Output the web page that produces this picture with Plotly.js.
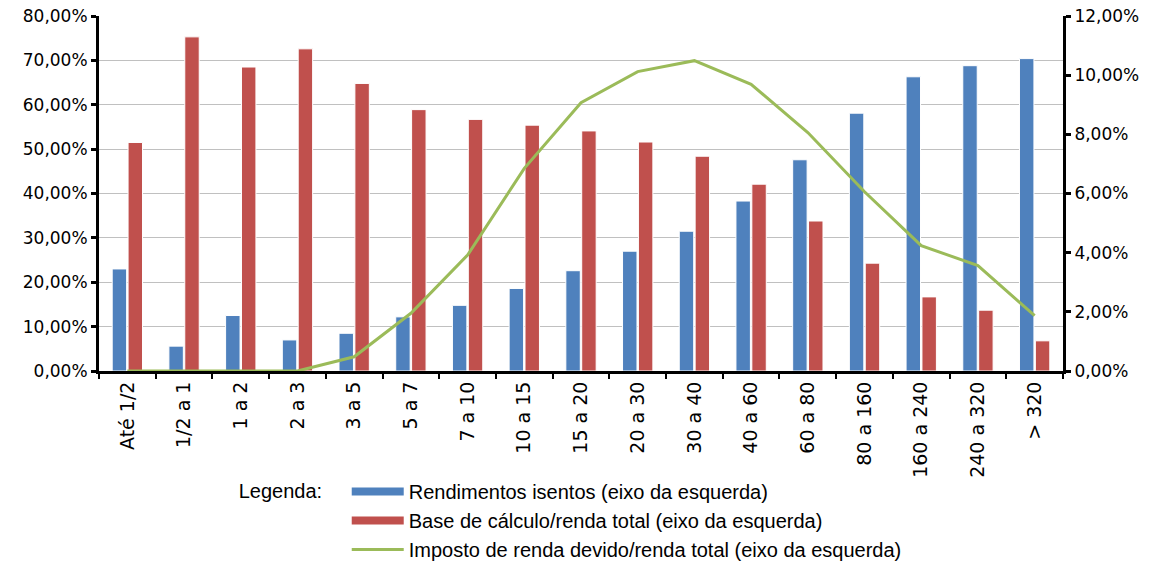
<!DOCTYPE html>
<html>
<head>
<meta charset="utf-8">
<script src="https://cdn.plot.ly/plotly-3.0.1.min.js"></script>
<style>
  html, body { margin: 0; padding: 0; background: #fff; }
  #chart { width: 1160px; height: 562px; }
</style>
</head>
<body>
<div id="chart"></div>
<script>
// Faixas de renda (em salários mínimos)
const faixas = ["Até 1/2", "1/2 a 1", "1 a 2", "2 a 3", "3 a 5", "5 a 7", "7 a 10", "10 a 15",
  "15 a 20", "20 a 30", "30 a 40", "40 a 60", "60 a 80", "80 a 160", "160 a 240", "240 a 320", "> 320"];

// Rendimentos isentos (% da renda total)
const rendimentosIsentos = [23.0, 5.6, 12.5, 7.0, 8.5, 12.2, 14.8, 18.6, 22.6, 27.0, 31.5, 38.3, 47.6, 58.1, 66.3, 68.8, 70.4];

// Base de cálculo / renda total (%)
const baseCalculo = [51.5, 75.3, 68.5, 72.6, 64.8, 58.9, 56.7, 55.4, 54.1, 51.6, 48.4, 42.1, 33.8, 24.3, 16.7, 13.7, 6.8];

// Imposto de renda devido / renda total (%)
const impostoDevido = [0, 0, 0, 0, 0.48, 1.95, 3.92, 6.85, 9.07, 10.12, 10.49, 9.69, 8.06, 6.06, 4.24, 3.56, 1.87];

// Nomes das séries na legenda
const nomes = [
  "Rendimentos isentos (eixo da esquerda)",
  "Base de cálculo/renda total (eixo da esquerda)",
  "Imposto de renda devido/renda total (eixo da esquerda)"
];

const cores = ["#4F81BD", "#C0504D", "#9BBB59"];

const Y_FONT = { family: "DejaVu Sans, Verdana, sans-serif", size: 17, color: "#000000" };
const X_FONT = { family: "DejaVu Sans, Verdana, sans-serif", size: 19, color: "#000000" };
const LEGEND_FONT = { family: "Liberation Sans, Arial, sans-serif", size: 20, color: "#000000" };

const traces = [
  {
    type: "bar",
    name: nomes[0],
    x: faixas,
    y: rendimentosIsentos,
    marker: { color: cores[0], line: { color: "#FFFFFF", width: 1 } },
    yaxis: "y",
    showlegend: false
  },
  {
    type: "bar",
    name: nomes[1],
    x: faixas,
    y: baseCalculo,
    marker: { color: cores[1], line: { color: "#FFFFFF", width: 1 } },
    yaxis: "y",
    showlegend: false
  },
  {
    type: "scatter",
    mode: "lines",
    name: nomes[2],
    x: faixas,
    y: impostoDevido,
    line: { color: cores[2], width: 3 },
    yaxis: "y2",
    showlegend: false
  },
  // Entradas da legenda: faixas largas para as barras, linha fina para o imposto
  { type: "scatter", mode: "lines", name: nomes[0], x: [null], y: [null], line: { color: cores[0], width: 8 }, hoverinfo: "skip" },
  { type: "scatter", mode: "lines", name: nomes[1], x: [null], y: [null], line: { color: cores[1], width: 8 }, hoverinfo: "skip" },
  { type: "scatter", mode: "lines", name: nomes[2], x: [null], y: [null], line: { color: cores[2], width: 3 }, hoverinfo: "skip" }
];

const layout = {
  width: 1160,
  height: 562,
  margin: { l: 99, r: 97, t: 16, b: 191, autoexpand: false },
  paper_bgcolor: "#FFFFFF",
  plot_bgcolor: "#FFFFFF",
  font: Y_FONT,
  separators: ",.",
  barmode: "group",
  bargap: 0.44,
  bargroupgap: 0.09,
  showlegend: true,
  legend: {
    orientation: "v",
    xref: "container",
    yref: "container",
    x: 0.204,
    xanchor: "left",
    y: 0.16,
    yanchor: "top",
    bgcolor: "rgba(0,0,0,0)",
    font: LEGEND_FONT,
    title: { text: "Legenda:\u00A0\u00A0\u00A0", side: "left", font: LEGEND_FONT },
    tracegroupgap: 0,
    itemwidth: 52
  },
  xaxis: {
    type: "category",
    tickangle: -90,
    automargin: false,
    showline: true,
    linecolor: "#000000",
    linewidth: 3,
    ticks: "outside",
    tickson: "boundaries",
    ticklen: 5,
    tickwidth: 2,
    tickcolor: "#000000",
    showgrid: false,
    tickfont: X_FONT,
    fixedrange: true
  },
  yaxis: {
    range: [0, 80],
    dtick: 10,
    tick0: 0,
    tickformat: ".2f",
    ticksuffix: "%",
    automargin: false,
    showline: true,
    linecolor: "#000000",
    linewidth: 3,
    ticks: "outside",
    ticklen: 5,
    tickwidth: 3,
    tickcolor: "#000000",
    showgrid: true,
    gridcolor: "#C0C0C0",
    gridwidth: 1,
    zeroline: false,
    tickfont: Y_FONT,
    fixedrange: true
  },
  yaxis2: {
    overlaying: "y",
    side: "right",
    range: [0, 12],
    dtick: 2,
    tick0: 0,
    tickformat: ".2f",
    ticksuffix: "%",
    automargin: false,
    showline: true,
    linecolor: "#000000",
    linewidth: 3,
    ticks: "outside",
    ticklen: 5,
    tickwidth: 3,
    tickcolor: "#000000",
    showgrid: false,
    zeroline: false,
    tickfont: Y_FONT,
    fixedrange: true
  }
};

Plotly.newPlot("chart", traces, layout, { displayModeBar: false, staticPlot: true });
</script>
</body>
</html>
